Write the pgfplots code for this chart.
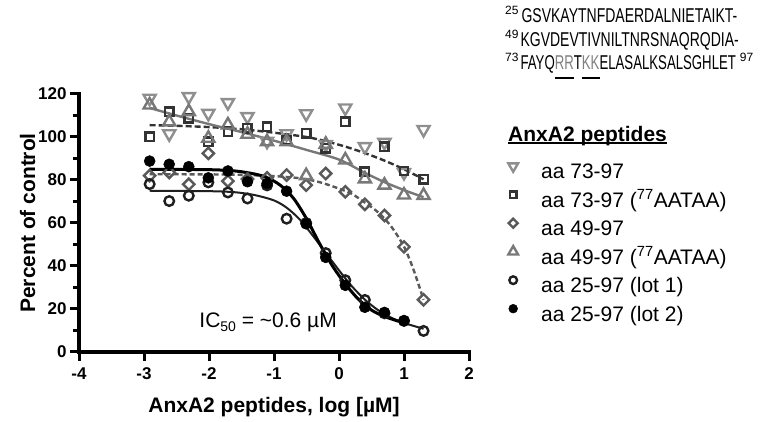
\documentclass[border=0pt]{standalone}
\usepackage{pgfplots}
\pgfplotsset{compat=1.18}
\usepackage{fontspec}
\setmainfont{Liberation Sans}
\newfontfamily\seqfont[FakeStretch=0.70]{Liberation Sans}
\newfontfamily\seqfontb[FakeStretch=0.66]{Liberation Sans}
\definecolor{cinv}{gray}{0.56}
\definecolor{csq}{gray}{0.2}
\definecolor{cdia}{gray}{0.35}
\definecolor{ctri}{gray}{0.47}
\definecolor{copen}{gray}{0.12}
\newsavebox\ulbox
\newcommand\ulg[1]{\sbox\ulbox{{\color{gray}#1}}\rlap{\vrule height -7pt depth 9pt width \wd\ulbox}\usebox\ulbox}
\newcommand\ult[1]{\sbox\ulbox{#1}\rlap{\vrule height -0.5pt depth 2.5pt width \wd\ulbox}\usebox\ulbox}
\begin{document}
\begin{tikzpicture}[x=1pt,y=1pt]
\useasboundingbox (0,0) rectangle (768,422);
\begin{axis}[
  at={(79pt,70pt)}, anchor=south west, scale only axis,
  width=390pt, height=258pt,
  xmin=-4, xmax=2, ymin=0, ymax=120,
  axis x line*=bottom, axis y line*=left,
  axis line style={line width=3.6pt, line cap=rect},
  xtick={-4,-3,-2,-1,0,1,2}, xticklabels={-4,-3,-2,-1,0,1,2},
  ytick={0,20,40,60,80,100,120}, yticklabels={0,20,40,60,80,100,120},
  minor ytick={10,30,50,70,90,110},
  tick align=outside, major tick length=9pt, minor tick length=6pt,
  tick style={black, line width=3pt},
  tick label style={font=\fontsize{17}{17}\selectfont\bfseries},
  xticklabel style={yshift=-3pt},
  clip=false,
  xlabel={AnxA2 peptides, log [µM]}, ylabel={Percent of control},
  every axis x label/.style={at={(axis description cs:0.5,-0.2364)}, anchor=base, font=\fontsize{21}{21}\selectfont\bfseries},
  every axis y label/.style={at={(axis description cs:-0.1128,0.5)}, rotate=90, anchor=base, font=\fontsize{21}{21}\selectfont\bfseries},
  legend image code/.code={\path[draw=none,fill=none] (-8pt,-5pt) rectangle (28pt,15pt); \draw[#1, every mark/.append style={scale=0.8}] plot coordinates {(0pt,7pt)};},
  legend cell align=left,
  legend style={at={(1.0923,0.752)}, anchor=north west, draw=none, fill=none, inner sep=0pt, row sep=3pt, column sep=0pt,
    nodes={inner sep=0pt, text height=16pt, text depth=5pt}, font=\fontsize{21}{21}\selectfont},
]
% fit curves
\addplot[forget plot, smooth, color=csq, line width=2.4pt, dash pattern=on 6pt off 3pt] coordinates {
(-2.913,105.5) (-2.5,105.2) (-2.0,104.6) (-1.5,103.6) (-1.0,102) (-0.5,100) (-0.2,98) (0.1,95.5) (0.4,92.5) (0.7,89) (1.0,85) (1.301,80.3)};
\addplot[forget plot, smooth, color=ctri, line width=2.4pt] coordinates {
(-2.913,113.5) (-2.5,110) (-2.0,106) (-1.5,102.3) (-1.0,98.3) (-0.5,94) (0,89.5) (0.4,83.3) (0.7,79) (1.0,75.3) (1.301,72)};
\addplot[forget plot, smooth, color=cdia, line width=2.4pt, dash pattern=on 5pt off 3pt] coordinates {
(-2.913,82.7) (-2.0,82.6) (-1.5,82.4) (-1.0,81.8) (-0.6,80.8) (-0.3,79) (0,76) (0.2,73.5) (0.4,69.5) (0.6,65) (0.8,58.5) (1.0,49) (1.15,38) (1.301,24.3)};
\addplot[forget plot, smooth, color=copen, line width=2pt] coordinates {
(-2.913,75) (-2.0,74.8) (-1.6,74.3) (-1.3,73) (-1.0,70.5) (-0.8,67) (-0.6,61.5) (-0.4,54) (-0.2,46) (0,38) (0.2,30.5) (0.4,24.3) (0.6,19.5) (0.8,16) (1.0,13.5) (1.301,10.8)};
\addplot[forget plot, smooth, color=black, line width=3pt] coordinates {
(-2.913,85) (-2.0,84.8) (-1.6,84.2) (-1.3,82.8) (-1.1,81) (-0.9,77.5) (-0.7,71.5) (-0.5,62) (-0.3,50.5) (-0.1,40) (0.1,31.5) (0.3,24.5) (0.5,19.5) (0.7,16.5) (1.0,13.5)};
% data
\addplot[only marks, mark=triangle, mark size=7pt, mark options={rotate=180, line width=2.4pt, draw=cinv, fill=none}] coordinates {
(-2.913,118) (-2.612,101.5) (-2.311,118.8) (-2.010,111) (-1.709,116) (-1.408,109.5) (-1.107,98) (-0.806,101.5) (-0.505,110.8) (-0.204,96.5) (0.097,113.5) (0.398,95.5) (0.699,97.5) (1.000,83.5) (1.301,103.5)};
\addlegendentry{aa 73-97}
\addplot[only marks, mark=square, mark size=4.2pt, mark options={line width=2.4pt, draw=csq, fill=none}] coordinates {
(-2.913,100.2) (-2.612,111.8) (-2.311,108.7) (-2.010,97.8) (-1.709,102.5) (-1.408,104) (-1.107,104.8) (-0.806,98.6) (-0.505,101.7) (-0.204,94.7) (0.097,107.1) (0.398,83.8) (0.699,95.5) (1.000,84.2) (1.301,80.4)};
\addlegendentry{aa 73-97 (\textsuperscript{77}AATAA)}
\addplot[only marks, mark=square, mark size=4pt, mark options={rotate=45, line width=2.4pt, draw=cdia, fill=none}] coordinates {
(-2.913,82) (-2.612,83.5) (-2.311,78) (-2.010,92.4) (-1.709,79.5) (-1.408,80.5) (-1.107,81) (-0.806,82.3) (-0.505,77.6) (-0.204,83) (0.097,74.5) (0.398,68.7) (0.699,63.5) (1.000,48.9) (1.301,24.3)};
\addlegendentry{aa 49-97}
\addplot[only marks, mark=triangle, mark size=7pt, mark options={line width=2.4pt, draw=ctri, fill=none}] coordinates {
(-2.913,114.9) (-2.612,107) (-2.311,111.8) (-2.010,99.4) (-1.709,105.6) (-1.408,101.3) (-1.107,97.8) (-0.806,97.8) (-0.505,82) (-0.204,96.6) (0.097,89.3) (0.398,80.5) (0.699,77.6) (1.000,73) (1.301,72.8)};
\addlegendentry{aa 49-97 (\textsuperscript{77}AATAA)}
\addplot[only marks, mark=o, mark size=4.8pt, mark options={line width=2.4pt, draw=copen, fill=none}] coordinates {
(-2.913,78.1) (-2.612,70.2) (-2.311,72.7) (-2.010,78.9) (-1.709,74.2) (-1.408,71.4) (-1.107,77.5) (-0.806,62) (-0.505,60) (-0.204,46) (0.097,33.4) (0.398,24.2) (0.699,18) (1.000,14.5) (1.301,9.8)};
\addlegendentry{aa 25-97 (lot 1)}
\addplot[only marks, mark=*, mark size=5.5pt, mark options={line width=0.5pt, draw=black, fill=black}] coordinates {
(-2.913,88.8) (-2.612,87.3) (-2.311,86.2) (-2.010,81) (-1.709,84.2) (-1.408,79.2) (-1.107,78.4) (-0.806,74.8) (-0.505,59.6) (-0.204,44) (0.097,31) (0.398,20.8) (0.699,18.4) (1.000,14.5)};
\addlegendentry{aa 25-97 (lot 2)}
\node[anchor=base west, inner sep=0pt, font=\fontsize{21}{21}\selectfont] at (axis cs:-2.15,11.5) {IC\raisebox{-4pt}{\fontsize{14}{14}\selectfont 50} = \textasciitilde0.6 µM};
\end{axis}
\node[anchor=base west, inner sep=0pt, font=\fontsize{21}{21}\selectfont\bfseries] at (508,280) {\ult{AnxA2 peptides}};
\node[anchor=base west, inner sep=0pt] at (505,399) {\fontsize{12}{12}\selectfont\raisebox{8pt}{25}\hspace{3pt}\seqfont\fontsize{20}{20}\selectfont GSVKAYTNFDAERDALNIETAIKT-};
\node[anchor=base west, inner sep=0pt] at (505,375) {\fontsize{12}{12}\selectfont\raisebox{8pt}{49}\hspace{2pt}\seqfont\fontsize{20}{20}\selectfont KGVDEVTIVNILTNRSNAQRQDIA-};
\node[anchor=base west, inner sep=0pt] at (505,352) {\fontsize{12}{12}\selectfont\raisebox{8pt}{73}\hspace{2pt}{\seqfontb\fontsize{20}{20}\selectfont FAYQ\ulg{RR}T\ulg{KK}ELASALKSALSGHLET}\hspace{4pt}\raisebox{8pt}{97}};
\end{tikzpicture}
\end{document}
